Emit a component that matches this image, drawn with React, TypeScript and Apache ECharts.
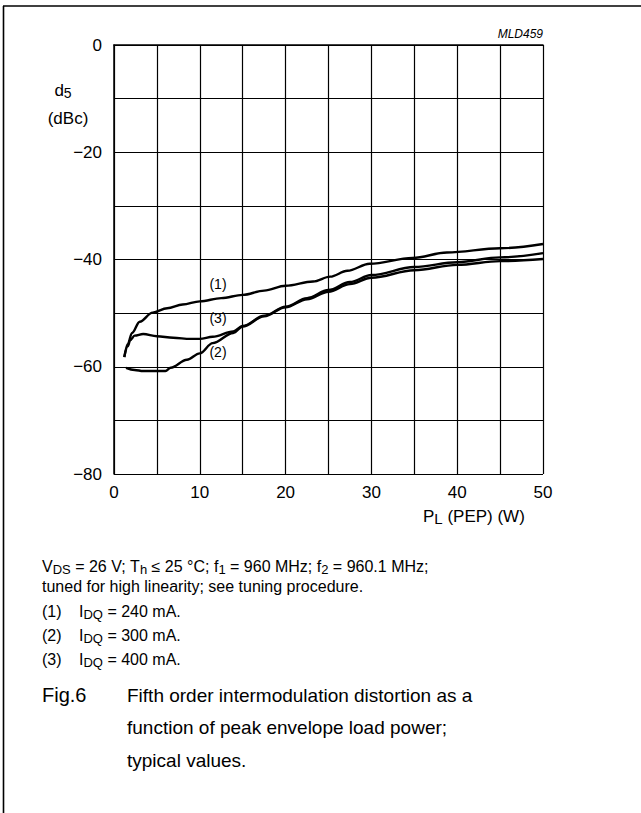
import React, { useEffect, useRef } from 'react';
import * as echarts from 'echarts';

// Curve (1): IDQ = 240 mA
const c1P = [1.2, 1.6, 2.1, 3, 4.5, 6.2, 8, 10, 12.5, 15, 17.5, 20, 23.2, 25.2, 27.2, 29.8, 34.8, 38.8, 45, 50];
const c1D = [-58.2, -55.8, -53.7, -51.6, -49.9, -49.1, -48.4, -47.8, -47.2, -46.6, -45.8, -44.9, -44.1, -43.2, -42.1, -40.8, -39.7, -38.7, -37.9, -37.1];
// Curve (2): IDQ = 300 mA
const c2P = [1.4, 2.4, 3.4, 6, 6.6, 8.5, 10, 11.5, 13.9, 15, 17.5, 20, 22.5, 25, 27.5, 30, 35, 40, 45, 50];
const c2D = [-60.2, -60.6, -60.8, -60.8, -60.2, -58.7, -57.5, -55.6, -53.7, -52.5, -50.6, -48.9, -47.4, -46.0, -44.6, -43.4, -42.0, -41.0, -40.3, -39.9];
// Curve (3): IDQ = 400 mA
const c3P = [1.2, 1.6, 1.9, 2.4, 3.4, 5, 6.9, 8.9, 10, 11.5, 13.9, 15, 17.5, 20, 22.5, 25, 27.5, 30, 35, 40, 45, 50];
const c3D = [-58.2, -56.2, -55, -54.2, -53.9, -54.3, -54.6, -54.8, -54.8, -54.4, -53.4, -52.4, -50.5, -48.8, -47.2, -45.7, -44.2, -42.9, -41.4, -40.5, -39.6, -38.8];

const curveLabels = ['(1)', '(2)', '(3)'];
const idqValues = ['240', '300', '400'];

const FONT = '"Liberation Sans", Arial, Helvetica, sans-serif';

function zip(p: number[], d: number[]) {
  return p.map((x, i) => [x, d[i]]);
}

export default function App() {
  const ref = useRef<HTMLDivElement>(null);
  useEffect(() => {
    if (!ref.current) return;
    const chart = echarts.init(ref.current, undefined, { renderer: 'svg' });
    const lineStyle = { color: '#000', width: 2.4 };
    const mkSeries = (p: number[], d: number[]) => ({
      type: 'line',
      data: zip(p, d),
      showSymbol: false,
      smooth: 0.35,
      smoothMonotone: 'x',
      lineStyle,
      silent: true,
    });
    const main = { fontFamily: FONT, fontSize: 16, lineHeight: 20, verticalAlign: 'middle', fill: '#000' };
    const sub = { fontFamily: FONT, fontSize: 13, lineHeight: 13, verticalAlign: 'bottom', fill: '#000' };
    const noteRich = { m: main, s: sub };
    const plain = (size: number) => ({ fontFamily: FONT, fontSize: size, fill: '#000', verticalAlign: 'middle' });
    const option: any = {
      animation: false,
      backgroundColor: '#fff',
      grid: { left: 114, top: 45, width: 429, height: 429, show: false },
      xAxis: {
        type: 'value', min: 0, max: 50, interval: 5,
        axisLine: { show: true, lineStyle: { color: '#000', width: 1.5 } },
        axisTick: { show: false },
        splitLine: { show: true, lineStyle: { color: '#000', width: 1.2 } },
        axisLabel: {
          color: '#000', fontFamily: FONT, fontSize: 17, margin: 10,
          formatter: (v: number) => (v % 10 === 0 ? String(v) : ''),
        },
      },
      yAxis: {
        type: 'value', min: -80, max: 0, interval: 10,
        axisLine: { show: true, lineStyle: { color: '#000', width: 1.5 } },
        axisTick: { show: false },
        splitLine: { show: true, lineStyle: { color: '#000', width: 1.2 } },
        axisLabel: {
          color: '#000', fontFamily: FONT, fontSize: 17, margin: 12,
          formatter: (v: number) => (v % 20 === 0 ? (v < 0 ? '\u2212' + Math.abs(v) : String(v)) : ''),
        },
      },
      series: [mkSeries(c1P, c1D), mkSeries(c2P, c2D), mkSeries(c3P, c3D)],
      graphic: [
        { type: 'line', shape: { x1: 3, y1: 6, x2: 641, y2: 6 }, style: { stroke: '#000', lineWidth: 1.6 } },
        { type: 'line', shape: { x1: 3.5, y1: 6, x2: 3.5, y2: 813 }, style: { stroke: '#000', lineWidth: 1.6 } },
        { type: 'text', x: 543, y: 34, style: { text: 'MLD459', ...plain(12), fontStyle: 'italic', align: 'right' } },
        { type: 'text', x: 63, y: 90, style: { text: '{m|d}{s|5}', rich: { m: { ...main, fontSize: 17, lineHeight: 20 }, s: { ...sub, fontSize: 14, lineHeight: 14 } }, align: 'center', verticalAlign: 'middle' } },
        { type: 'text', x: 68, y: 118, style: { text: '(dBc)', ...plain(17), align: 'center' } },
        { type: 'text', x: 218, y: 284, style: { text: curveLabels[0], ...plain(14), align: 'center' } },
        { type: 'text', x: 218, y: 318, style: { text: curveLabels[2], ...plain(14), align: 'center', backgroundColor: '#fff', padding: [1, 4] } },
        { type: 'text', x: 218, y: 352, style: { text: curveLabels[1], ...plain(14), align: 'center' } },
        { type: 'text', x: 423, y: 516, style: { text: '{m|P}{s|L}{m| (PEP) (W)}', rich: { m: { ...main, fontSize: 17, lineHeight: 20 }, s: { ...sub, fontSize: 15, lineHeight: 14 } }, align: 'left', verticalAlign: 'middle' } },
        { type: 'text', x: 42, y: 566, style: { text: '{m|V}{s|DS}{m| = 26 V; T}{s|h}{m| \u2264 25 \u00B0C; f}{s|1}{m| = 960 MHz; f}{s|2}{m| = 960.1 MHz;}', rich: noteRich, align: 'left', verticalAlign: 'middle' } },
        { type: 'text', x: 42, y: 586, style: { text: 'tuned for high linearity; see tuning procedure.', ...plain(16), align: 'left' } },
        ...[0, 1, 2].map((i) => ({ type: 'group', children: [
          { type: 'text', x: 42, y: 611 + i * 24, style: { text: curveLabels[i], ...plain(16), align: 'left' } },
          { type: 'text', x: 79, y: 611 + i * 24, style: { text: `{m|I}{s|DQ}{m| = ${idqValues[i]} mA.}`, rich: noteRich, align: 'left', verticalAlign: 'middle' } },
        ] })),
        { type: 'text', x: 42, y: 695, style: { text: 'Fig.6', ...plain(20), align: 'left' } },
        { type: 'text', x: 127, y: 695, style: { text: 'Fifth order intermodulation distortion as a', ...plain(19), align: 'left' } },
        { type: 'text', x: 127, y: 727, style: { text: 'function of peak envelope load power;', ...plain(19), align: 'left' } },
        { type: 'text', x: 127, y: 760, style: { text: 'typical values.', ...plain(19), align: 'left' } },
      ],
    };
    chart.setOption(option);
    return () => chart.dispose();
  }, []);
  return <div ref={ref} style={{ position: 'absolute', left: 0, top: 0, width: 641, height: 813 }} />;
}
